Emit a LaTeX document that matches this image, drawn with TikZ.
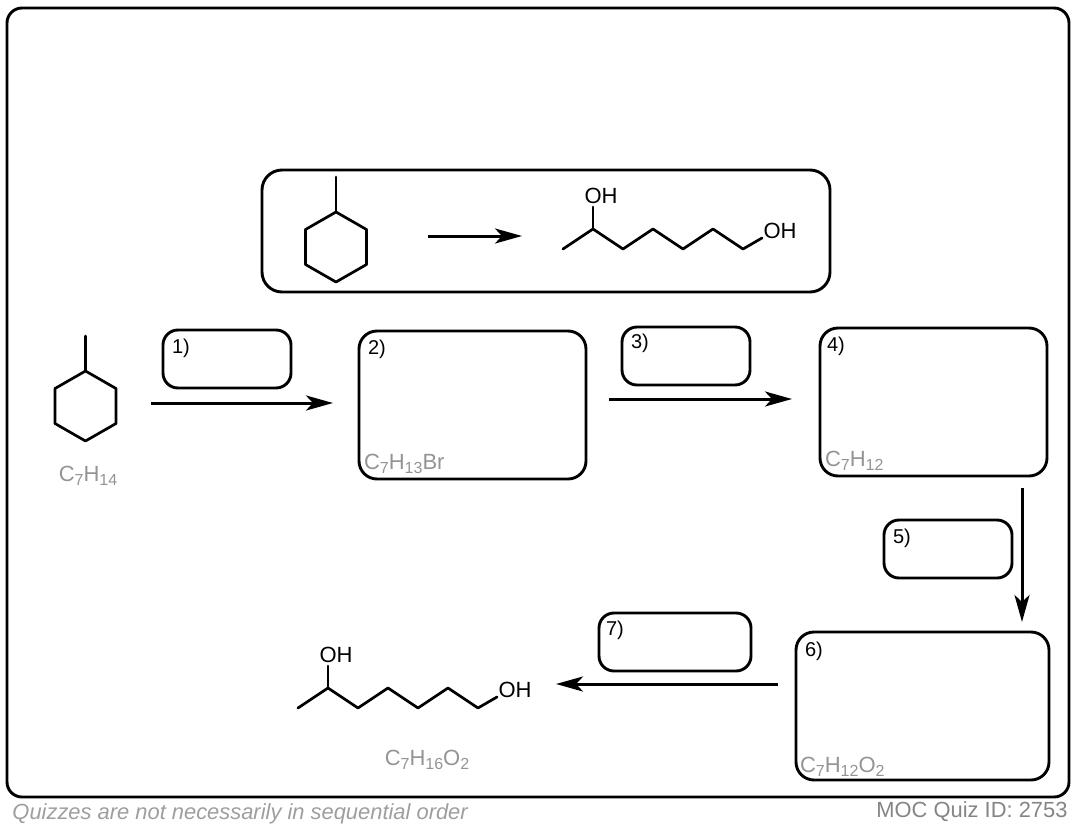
\documentclass[tikz,border=0pt]{standalone}
\usepackage{fontspec}
\setmainfont{Liberation Sans}
\usetikzlibrary{arrows.meta,positioning}

\newcommand{\atomcount}[1]{\raisebox{-4.5pt}{\fontsize{16}{16}\selectfont #1}}

\tikzset{
  answer/.style={draw,line width=2.9pt,rounded corners=15pt,inner sep=0pt},
  smallbox/.style={answer,minimum width=128pt,minimum height=58pt},
  bigbox/.style={answer,rounded corners=18pt,minimum width=227pt,minimum height=148pt},
  steplabel/.style={inner sep=0pt,font=\fontsize{20}{22}\selectfont},
  formula/.style={inner sep=0pt,text=black!42,font=\fontsize{22}{24}\selectfont},
  atom/.style={inner sep=0pt,font=\fontsize{22}{24}\selectfont},
  bond/.style={-,line width=2.7pt,line join=round,line cap=round},
  methylring/.pic={
    \coordinate (-me) at (0,-70);
    \coordinate (-a) at (0,-35);
    \coordinate (-b) at (30.5,-17.5);
    \coordinate (-c) at (30.5,17.5);
    \coordinate (-d) at (0,35);
    \coordinate (-e) at (-30.5,17.5);
    \coordinate (-f) at (-30.5,-17.5);
    \draw[bond] (-a) -- (-b) -- (-c) -- (-d) -- (-e) -- (-f) -- cycle;
    \draw[bond] (-me) -- (-a);
  },
  diol/.pic={
    \coordinate (-c1) at (-30,20);
    \coordinate (-c2) at (0,0);
    \coordinate (-c3) at (30,20);
    \coordinate (-c4) at (60,0);
    \coordinate (-c5) at (90,20);
    \coordinate (-c6) at (120,0);
    \coordinate (-c7) at (150,20);
    \coordinate (-o1) at (0,-22);
    \coordinate (-o2) at (169,9);
    \draw[bond] (-c1) -- (-c2) -- (-c3) -- (-c4) -- (-c5) -- (-c6) -- (-c7) -- (-o2);
    \draw[bond] (-c2) -- (-o1);
    \node[atom] (-oha) at (8,-33) {OH};
    \node[atom] (-ohb) at (187,2) {OH};
  }
}

\begin{document}
\begin{tikzpicture}[x=1pt,y=-1pt,->,>={Stealth[length=27pt,width=15pt,inset=7pt]},line width=3pt]
      \useasboundingbox (0,0) rectangle (1076,830);

      % frame and question
      \node[answer,minimum width=1062pt,minimum height=789pt] (frame) at (538,402.5) {};
      \node[answer,rounded corners=20pt,minimum width=568pt,minimum height=122pt] (question) at (546,231) {};
      \pic (qstart) at (336,247) {methylring};
      \pic (qend) at (593,229) {diol};

      % answer boxes
      \node[smallbox] (box1) at (227,359) {};
      \node[bigbox]   (box2) at (472.5,405) {};
      \node[smallbox] (box3) at (686,356) {};
      \node[bigbox]   (box4) at (933.5,402) {};
      \node[smallbox] (box5) at (948,549) {};
      \node[bigbox,minimum width=253pt] (box6) at (922.5,706) {};
      \node[smallbox,minimum width=152pt] (box7) at (675,642) {};

      \node[steplabel] (lab1) [below right=9pt and 9pt of box1.north west] {1)};
      \node[steplabel] (lab2) [below right=9pt and 9pt of box2.north west] {2)};
      \node[steplabel] (lab3) [below right=7pt and 9pt of box3.north west] {3)};
      \node[steplabel] (lab4) [below right=9pt and 7pt of box4.north west] {4)};
      \node[steplabel] (lab5) [below right=9pt and 9pt of box5.north west] {5)};
      \node[steplabel] (lab6) [below right=10pt and 9pt of box6.north west] {6)};
      \node[steplabel] (lab7) [below right=8pt and 7pt of box7.north west] {7)};

      % formulas
      \node[formula] (f2) [above right=5pt and 5pt of box2.south west] {C\atomcount{7}H\atomcount{13}Br};
      \node[formula] (f4) [above right=5pt and 5pt of box4.south west] {C\atomcount{7}H\atomcount{12}};
      \node[formula] (f6) [above right=3pt and 4pt of box6.south west] {C\atomcount{7}H\atomcount{12}O\atomcount{2}};

      % start and end of the route
      \pic (start) at (85.5,406) {methylring};
      \pic (end) at (328,688) {diol};
      \node[formula] (f1) at (88,476) {C\atomcount{7}H\atomcount{14}};
      \node[formula] (f7) at (427,760) {C\atomcount{7}H\atomcount{16}O\atomcount{2}};

      % reaction arrows
      \coordinate (q1) at (428,236);
      \coordinate (q2) at (522,236);
      \coordinate (a1) at (151,403);
      \coordinate (a2) at (333,403);
      \coordinate (b1) at (609,399);
      \coordinate (b2) at (792,399);
      \coordinate (c1) at (1022,488);
      \coordinate (c2) at (1022,622);
      \coordinate (d1) at (778,684);
      \coordinate (d2) at (556,684);
      \path (q1) edge (q2)
            (a1) edge (a2)
            (b1) edge (b2)
            (c1) edge (c2)
            (d1) edge (d2);

      % footer
      \node[anchor=west,inner sep=0pt,text=black!38,font=\fontsize{21.9}{24}\selectfont\itshape] (note) at (11,814) {Quizzes are not necessarily in sequential order};
      \node[anchor=east,inner sep=0pt,text=black!48,font=\fontsize{21.9}{24}\selectfont] (quizid) at (1069,812) {MOC Quiz ID: 2753};
\end{tikzpicture}
\end{document}
